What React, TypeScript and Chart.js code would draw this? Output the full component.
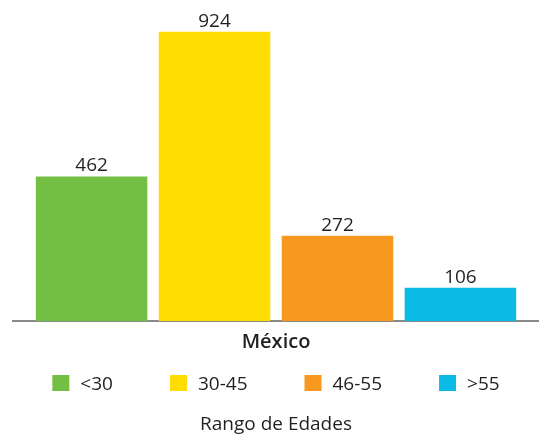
import React, { useEffect, useRef } from "react";
import { Chart, registerables } from "chart.js";

Chart.register(...registerables);

const categories = ["México"];
const seriesLabels = ["<30", "30-45", "46-55", ">55"];
const seriesValues = [462, 924, 272, 106];
const seriesColors = ["#72BF44", "#FFDD00", "#F7991F", "#0BBBE5"];
const axisTitle = "Rango de Edades";

const FONT = "'Open Sans', 'Noto Sans', sans-serif";
const TEXT = "#231F20";

const valueLabels = {
  id: "valueLabels",
  afterDatasetsDraw(chart: any) {
    const ctx = chart.ctx;
    ctx.save();
    ctx.font = `19px ${FONT}`;
    ctx.fillStyle = TEXT;
    ctx.textAlign = "center";
    ctx.textBaseline = "alphabetic";
    chart.data.datasets.forEach((ds: any, i: number) => {
      const meta = chart.getDatasetMeta(i);
      meta.data.forEach((el: any, j: number) => {
        ctx.fillText(String(ds.data[j]), el.x, el.y - 5);
      });
    });
    ctx.restore();
  },
};

const boxLegend = {
  id: "boxLegend",
  afterDraw(chart: any) {
    const ctx = chart.ctx;
    const box = 17;
    const gapText = 11;
    const gapItem = 57;
    ctx.save();
    ctx.font = `19px ${FONT}`;
    const items = chart.data.datasets.map((ds: any) => ({
      text: ds.label,
      color: ds.backgroundColor,
      w: ctx.measureText(ds.label).width,
    }));
    const total =
      items.reduce((s: number, it: any) => s + box + gapText + it.w, 0) +
      gapItem * (items.length - 1);
    const cx = (chart.chartArea.left + chart.chartArea.right) / 2;
    let x = cx - total / 2;
    const top = chart.scales.x.bottom + 12;
    ctx.textAlign = "left";
    ctx.textBaseline = "alphabetic";
    items.forEach((it: any) => {
      ctx.fillStyle = it.color;
      ctx.fillRect(x, top, box, box - 1);
      ctx.fillStyle = TEXT;
      ctx.fillText(it.text, x + box + gapText, top + 15);
      x += box + gapText + it.w + gapItem;
    });
    ctx.restore();
  },
};

export default function App() {
  const ref = useRef<HTMLCanvasElement>(null);
  useEffect(() => {
    if (!ref.current) return;
    const chart = new Chart(ref.current, {
      type: "bar",
      data: {
        labels: categories,
        datasets: seriesLabels.map((label, i) => ({
          label,
          data: [seriesValues[i]],
          backgroundColor: seriesColors[i],
          borderWidth: 0,
          categoryPercentage: 0.935,
          barPercentage: 0.907,
        })),
      },
      options: {
        responsive: false,
        animation: false,
        layout: { padding: { top: 8, left: 13, right: 0, bottom: 0 } },
        scales: {
          x: {
            grid: { display: false, drawTicks: false },
            border: { display: true, color: "#8A8A8A", width: 2 },
            ticks: {
              padding: 9,
              color: TEXT,
              font: { family: FONT, size: 20, weight: "600" },
            },
          },
          y: { display: false, min: 0, max: 1000 },
        },
        plugins: {
          legend: { display: false },
          tooltip: { enabled: false },
          title: {
            display: true,
            position: "bottom",
            text: axisTitle,
            color: TEXT,
            font: { family: FONT, size: 19, weight: "normal", lineHeight: 1.0 },
            padding: { top: 52, bottom: 1 },
          },
        },
      },
      plugins: [valueLabels, boxLegend],
    });
    return () => chart.destroy();
  }, []);
  return (
    <div style={{ position: "absolute", left: 0, top: 0, width: 539, height: 435 }}>
      <canvas ref={ref} width={539} height={435} style={{ display: "block" }} />
    </div>
  );
}
